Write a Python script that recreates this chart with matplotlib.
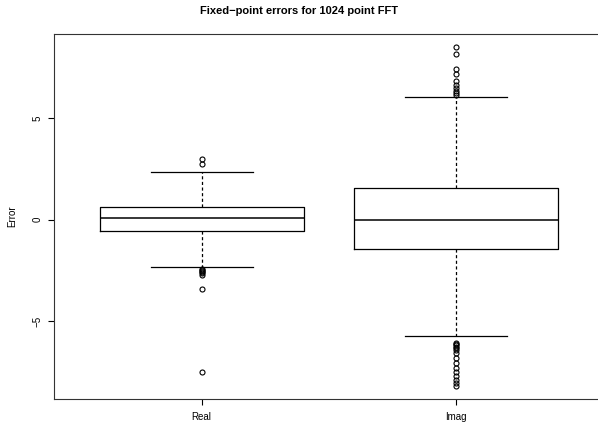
import matplotlib
matplotlib.use("Agg")
import matplotlib.pyplot as plt

plt.rcParams['font.family'] = ['Liberation Sans', 'DejaVu Sans']

# box statistics
labels = ["Real", "Imag"]
medians = [0.07, -0.01]
q1 = [-0.56, -1.44]
q3 = [0.64, 1.54]
whis_lo = [-2.31, -5.72]
whis_hi = [2.36, 6.03]
fliers_real = [2.98, 2.76, -2.42, -2.48, -2.53, -2.58, -2.64, -2.70, -3.42, -7.50]
fliers_imag = [8.47, 8.15, 7.40, 7.17, 6.80, 6.60, 6.45, 6.35, 6.25, 6.15,
               -6.05, -6.12, -6.18, -6.25, -6.32, -6.40, -6.58, -6.80, -7.05,
               -7.28, -7.50, -7.70, -7.90, -8.05, -8.16]

stats = []
for i in range(len(labels)):
    stats.append({
        "label": labels[i],
        "med": medians[i],
        "q1": q1[i],
        "q3": q3[i],
        "whislo": whis_lo[i],
        "whishi": whis_hi[i],
        "fliers": [fliers_real, fliers_imag][i],
    })

fig = plt.figure(figsize=(5.98, 4.25), dpi=100)
W, H = 598.0, 425.0
ax = fig.add_axes([54 / W, 1 - 399 / H, 550 / W, 365 / H])

ax.bxp(stats, positions=[1, 2], widths=0.8, capwidths=0.4,
       boxprops=dict(color="black", linewidth=0.9),
       medianprops=dict(color="black", linewidth=1.1),
       whiskerprops=dict(color="black", linewidth=0.9, linestyle=(0, (2.5, 2))),
       capprops=dict(color="black", linewidth=0.9),
       flierprops=dict(marker="o", markerfacecolor="none", markeredgecolor="black",
                       markersize=3.6, markeredgewidth=0.8))

ax.set_xlim(0.42, 2.58)
ax.set_ylim(-8.82, 9.13)

ax.set_yticks([-5, 0, 5])
ax.set_yticklabels(["\u22125", "0", "5"], rotation=90, va="center", fontsize=7)
ax.set_xticks([1, 2])
ax.set_xticklabels(labels, fontsize=7)
ax.tick_params(axis="both", length=4, width=0.8, color="black", pad=5)
ax.tick_params(axis="y", pad=4)

for s in ax.spines.values():
    s.set_linewidth(0.8)
    s.set_color("#333333")

ax.set_ylabel("Error", fontsize=7, labelpad=11)
fig.text(299 / W, 1 - 11 / H, "Fixed\u2212point errors for 1024 point FFT",
         ha="center", va="center", fontsize=8, fontweight="bold")

fig.savefig("out.png", dpi=100)
